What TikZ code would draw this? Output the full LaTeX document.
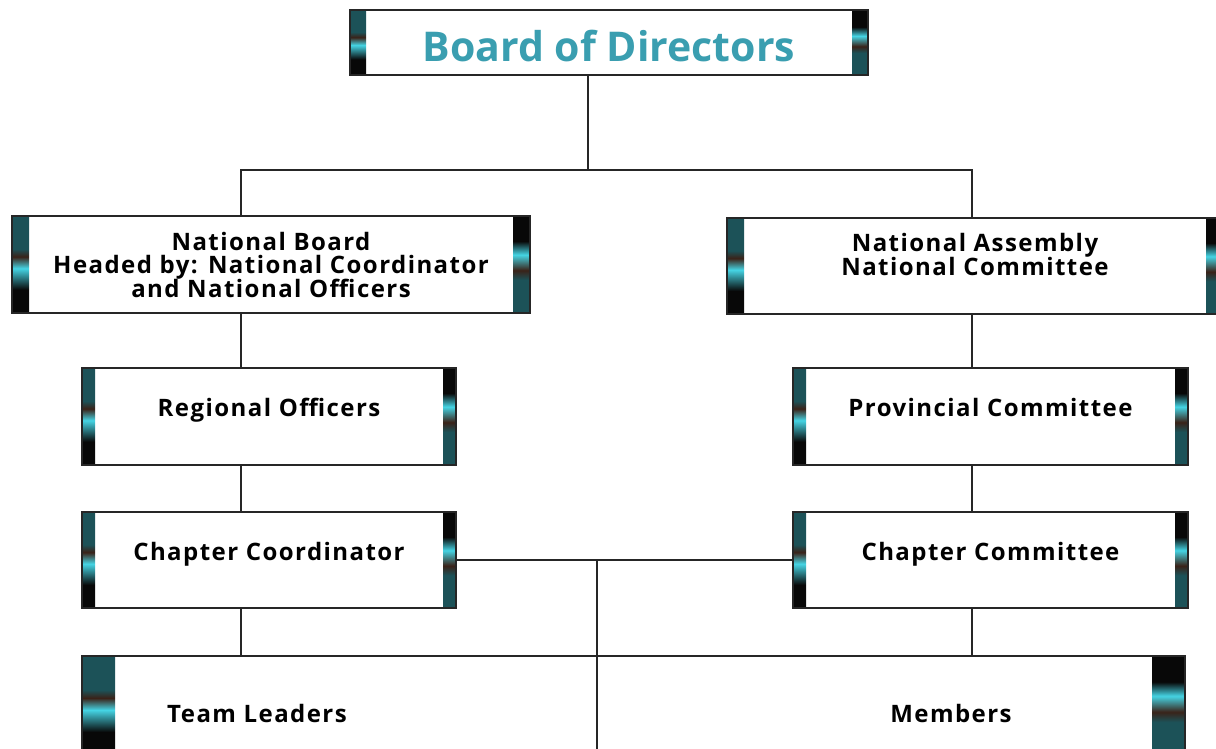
\documentclass[tikz,border=0pt]{standalone}
\usepackage{fontspec}
\setmainfont{Open Sans}
\newfontfamily\spacedfam{Open Sans}[LetterSpace=6]
\usepackage{tikz}
\usetikzlibrary{calc,positioning}
\definecolor{titleteal}{HTML}{3A9EB0}
\definecolor{barcyan}{HTML}{45D4E4}
\definecolor{barteal}{HTML}{1C5258}
\definecolor{barbrown}{HTML}{3A2218}
\definecolor{barblack}{HTML}{080808}
\pgfdeclareverticalshading{barleft}{100bp}{color(0bp)=(barblack); color(25bp)=(barblack); color(37bp)=(barblack); color(48bp)=(barcyan); color(54bp)=(barbrown); color(58bp)=(barteal); color(75bp)=(barteal); color(100bp)=(barteal)}
\pgfdeclareverticalshading{barright}{100bp}{color(0bp)=(barteal); color(25bp)=(barteal); color(42bp)=(barteal); color(47bp)=(barbrown); color(55bp)=(barcyan); color(62bp)=(barblack); color(75bp)=(barblack); color(100bp)=(barblack)}
\newcommand{\boxfont}{\spacedfam\bfseries\fontsize{24}{23.5}\selectfont\setlength{\lineskiplimit}{-50pt}\setlength{\lineskip}{0pt}}

\begin{document}
\begin{tikzpicture}[x=1pt,y=-1pt,
        bar/.store in=\barwd, bar=15pt,
        box/.style={draw=black!85,line width=2.2pt,fill=white,inner sep=0pt,
            path picture={
                \shade[shading=barleft] (path picture bounding box.north west) rectangle ([xshift=\barwd]path picture bounding box.south west);
                \shade[shading=barright] ([xshift=-\barwd]path picture bounding box.north east) rectangle (path picture bounding box.south east);}},
        lbl/.style={font=\boxfont,align=center,text height=12pt,text depth=12pt},
        link/.style={line width=1.8pt,black!85}]
                      \useasboundingbox (0,0) rectangle (1216,749);
                      \clip (0,0) rectangle (1216,749);

                      \node[box,bar=16pt,minimum width=518,minimum height=65,text=titleteal,font=\bfseries\fontsize{41}{41}\selectfont,text height=39pt,text depth=0pt] (board) at (609,42.5) {Board of Directors};

                      \node[box,bar=17pt,lbl,text height=,text depth=,minimum width=518,minimum height=97] (nb) at (271,264.5) {National Board\\Headed by: National Coordinator\\and National Officers};
                      \node[box,bar=17pt,lbl,text height=,text depth=,minimum width=496,minimum height=96] (na) at (975,266) {National Assembly\\National Committee\\~};

                      \node[box,bar=13pt,lbl,minimum width=374,minimum height=97] (ro) at (269,416.5) {Regional Officers};
                      \node[box,bar=13pt,lbl,minimum width=395,minimum height=97] (pc) at (990.5,416.5) {Provincial Committee};

                      \node[box,bar=13pt,lbl,minimum width=374,minimum height=96] (cc) at (269,560) {Chapter Coordinator};
                      \node[box,bar=13pt,lbl,minimum width=395,minimum height=96] (cm) at (990.5,560) {Chapter Committee};

                      \node[box,bar=33pt,minimum width=1103,minimum height=100] (base) at (633.5,706) {};
                      \node[lbl] (leaders) at (257,722) {Team Leaders};
                      \node[lbl] (members) at (951,722) {Members};

                      \coordinate (split) at (588,170);
                      \coordinate (lcol) at (241,0);
                      \coordinate (rcol) at (972,0);
                      \coordinate (hub) at (597,0);

                      \draw[link] (board.south -| split) -- (split);
                      \draw[link] (nb.north -| lcol) |- (split) -| (na.north -| rcol);
                      \draw[link] (nb.south -| lcol) -- (ro.north -| lcol);
                      \draw[link] (ro.south -| lcol) -- (cc.north -| lcol);
                      \draw[link] (cc.south -| lcol) -- (base.north -| lcol);
                      \draw[link] (na.south -| rcol) -- (pc.north -| rcol);
                      \draw[link] (pc.south -| rcol) -- (cm.north -| rcol);
                      \draw[link] (cm.south -| rcol) -- (base.north -| rcol);
                      \draw[link] (cc.east) -- (cm.west);
                      \draw[link] (cc.east -| hub) -- (base.south -| hub);
                    \end{tikzpicture}
\end{document}
